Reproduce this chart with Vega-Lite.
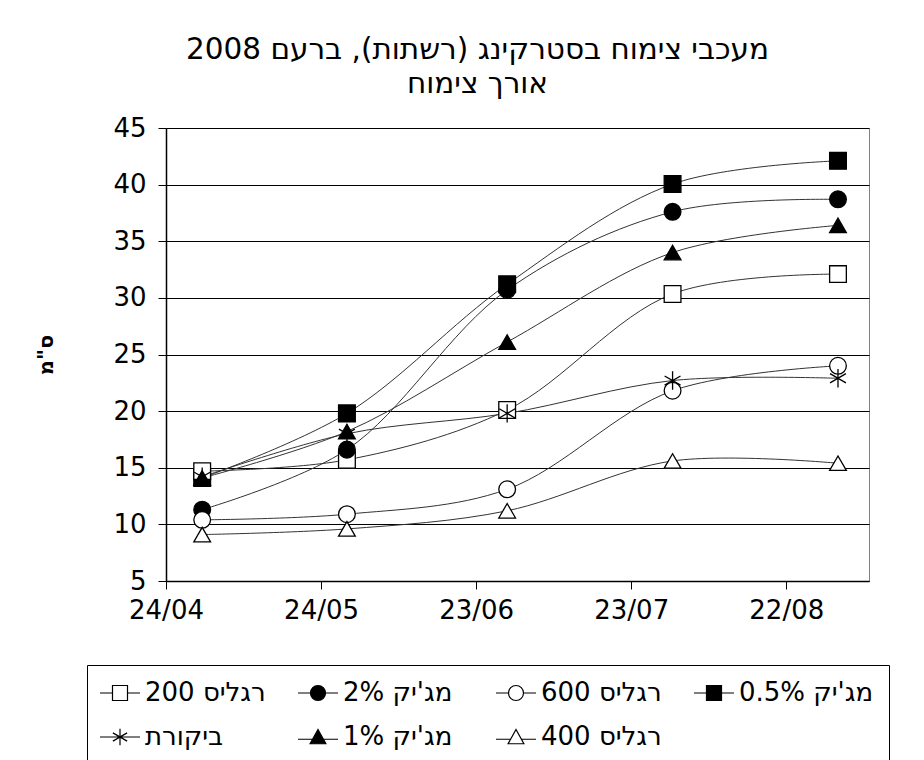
{
  "$schema": "https://vega.github.io/schema/vega-lite/v6.json",
  "width": 703,
  "height": 453,
  "padding": {"left": 35, "top": 34, "right": 40, "bottom": 2},
  "background": "white",
  "title": {
    "text": ["מעכבי צימוח בסטרקינג (רשתות), ברעם 2008", "אורך צימוח"],
    "font": "DejaVu Sans",
    "fontSize": 29.5,
    "fontWeight": "normal",
    "lineHeight": 34,
    "anchor": "middle",
    "frame": "group",
    "offset": 16,
    "dx": -40,
    "color": "#000"
  },
  "config": {
    "font": "DejaVu Sans",
    "view": {"stroke": "#808080", "strokeWidth": 1},
    "axis": {"domainColor": "#000", "tickColor": "#000", "labelColor": "#000", "titleColor": "#000", "labelFont": "DejaVu Sans", "titleFont": "DejaVu Sans"},
    "legend": {
      "orient": "none",
      "legendX": -79,
      "legendY": 537,
      "columns": 4,
      "direction": "horizontal",
      "gridAlign": "all",
      "columnPadding": 15,
      "rowPadding": 18,
      "padding": 15,
      "symbolOffset": 5,
      "strokeColor": "#000",
      "labelFont": "DejaVu Sans",
      "labelFontSize": 26,
      "labelColor": "#000",
      "labelOffset": 12,
      "labelLimit": 300,
      "symbolSize": 225,
      "symbolStrokeColor": "#000",
      "symbolStrokeWidth": 1.2
    }
  },
  "datasets": {
    "growth": [
      {"date": "2008-05-01", "series": "מג'יק 0.5%", "value": 14.1},
      {"date": "2008-05-29", "series": "מג'יק 0.5%", "value": 19.8},
      {"date": "2008-06-29", "series": "מג'יק 0.5%", "value": 31.2},
      {"date": "2008-07-31", "series": "מג'יק 0.5%", "value": 40.05},
      {"date": "2008-09-01", "series": "מג'יק 0.5%", "value": 42.1},
      {"date": "2008-05-01", "series": "מג'יק 2%", "value": 11.3},
      {"date": "2008-05-29", "series": "מג'יק 2%", "value": 16.6},
      {"date": "2008-06-29", "series": "מג'יק 2%", "value": 30.7},
      {"date": "2008-07-31", "series": "מג'יק 2%", "value": 37.6},
      {"date": "2008-09-01", "series": "מג'יק 2%", "value": 38.7},
      {"date": "2008-05-01", "series": "מג'יק 1%", "value": 14.1},
      {"date": "2008-05-29", "series": "מג'יק 1%", "value": 18.2},
      {"date": "2008-06-29", "series": "מג'יק 1%", "value": 26.1},
      {"date": "2008-07-31", "series": "מג'יק 1%", "value": 34.0},
      {"date": "2008-09-01", "series": "מג'יק 1%", "value": 36.4},
      {"date": "2008-05-01", "series": "רגליס 200", "value": 14.7},
      {"date": "2008-05-29", "series": "רגליס 200", "value": 15.7},
      {"date": "2008-06-29", "series": "רגליס 200", "value": 20.1},
      {"date": "2008-07-31", "series": "רגליס 200", "value": 30.35},
      {"date": "2008-09-01", "series": "רגליס 200", "value": 32.1},
      {"date": "2008-05-01", "series": "רגליס 600", "value": 10.4},
      {"date": "2008-05-29", "series": "רגליס 600", "value": 10.9},
      {"date": "2008-06-29", "series": "רגליס 600", "value": 13.1},
      {"date": "2008-07-31", "series": "רגליס 600", "value": 21.8},
      {"date": "2008-09-01", "series": "רגליס 600", "value": 24.0},
      {"date": "2008-05-01", "series": "רגליס 400", "value": 9.1},
      {"date": "2008-05-29", "series": "רגליס 400", "value": 9.6},
      {"date": "2008-06-29", "series": "רגליס 400", "value": 11.2},
      {"date": "2008-07-31", "series": "רגליס 400", "value": 15.6},
      {"date": "2008-09-01", "series": "רגליס 400", "value": 15.4},
      {"date": "2008-05-01", "series": "ביקורת", "value": 14.2},
      {"date": "2008-05-29", "series": "ביקורת", "value": 18.0},
      {"date": "2008-06-29", "series": "ביקורת", "value": 19.8},
      {"date": "2008-07-31", "series": "ביקורת", "value": 22.7},
      {"date": "2008-09-01", "series": "ביקורת", "value": 22.9}
    ]
  },
  "data": {"name": "growth"},
  "encoding": {
    "x": {
      "field": "date",
      "type": "temporal",
      "scale": {
        "type": "utc",
        "domain": [{"year": 2008, "month": 4, "date": 24, "utc": true}, {"year": 2008, "month": 9, "date": 7, "utc": true}]
      },
      "axis": {
        "title": null,
        "grid": false,
        "values": [
          {"year": 2008, "month": 4, "date": 24, "utc": true},
          {"year": 2008, "month": 5, "date": 24, "utc": true},
          {"year": 2008, "month": 6, "date": 23, "utc": true},
          {"year": 2008, "month": 7, "date": 23, "utc": true},
          {"year": 2008, "month": 8, "date": 22, "utc": true}
        ],
        "labelExpr": "utcFormat(datum.value, '%d/%m')",
        "labelFontSize": 26,
        "labelPadding": 8,
        "tickSize": 8,
        "domainWidth": 1.5,
        "labelFlush": false,
        "labelOverlap": false
      }
    },
    "y": {
      "field": "value",
      "type": "quantitative",
      "scale": {"domain": [5, 45], "nice": false, "zero": false},
      "axis": {
        "title": "ס\"מ",
        "titleFontSize": 21,
        "titleFontWeight": "bold",
        "titlePadding": 56,
        "values": [5, 10, 15, 20, 25, 30, 35, 40, 45],
        "labelFontSize": 26,
        "labelPadding": 12,
        "tickSize": 8,
        "domainWidth": 1.5,
        "grid": true,
        "gridColor": "#000",
        "gridWidth": 1.2,
        "gridOpacity": 1,
        "labelFlush": false
      }
    }
  },
  "layer": [
    {
      "mark": {"type": "line", "interpolate": "catmull-rom", "stroke": "#333", "strokeWidth": 1},
      "encoding": {"detail": {"field": "series"}}
    },
    {
      "transform": [{"filter": {"field": "series", "oneOf": ["רגליס 200", "מג'יק 0.5%"]}}],
      "mark": {"type": "point", "shape": "square", "stroke": "#000", "strokeWidth": 1.3, "opacity": 1, "size": 280},
      "encoding": {
        "fill": {
          "field": "series",
          "type": "nominal",
          "scale": {
            "domain": ["רגליס 200", "מג'יק 2%", "רגליס 600", "מג'יק 0.5%", "ביקורת", "מג'יק 1%", "רגליס 400"],
            "range": ["#fff", "#000", "#fff", "#000", "#fff", "#000", "#fff"]
          },
          "legend": {
            "title": null,
            "encode": {"symbols": {"stroke": {"value": "#000"}, "strokeWidth": {"value": 1.2}, "opacity": {"value": 1}}}
          }
        }
      }
    },
    {
      "transform": [{"filter": {"field": "series", "oneOf": ["מג'יק 2%", "רגליס 600"]}}],
      "mark": {"type": "point", "shape": "circle", "stroke": "#000", "strokeWidth": 1.3, "opacity": 1, "size": 280},
      "encoding": {
        "fill": {
          "field": "series",
          "type": "nominal",
          "scale": {
            "domain": ["רגליס 200", "מג'יק 2%", "רגליס 600", "מג'יק 0.5%", "ביקורת", "מג'יק 1%", "רגליס 400"],
            "range": ["#fff", "#000", "#fff", "#000", "#fff", "#000", "#fff"]
          },
          "legend": {
            "title": null,
            "encode": {"symbols": {"stroke": {"value": "#000"}, "strokeWidth": {"value": 1.2}, "opacity": {"value": 1}}}
          }
        }
      }
    },
    {
      "transform": [{"filter": {"field": "series", "oneOf": ["מג'יק 1%", "רגליס 400"]}}],
      "mark": {"type": "point", "shape": "triangle-up", "stroke": "#000", "strokeWidth": 1.3, "opacity": 1, "size": 280},
      "encoding": {
        "fill": {
          "field": "series",
          "type": "nominal",
          "scale": {
            "domain": ["רגליס 200", "מג'יק 2%", "רגליס 600", "מג'יק 0.5%", "ביקורת", "מג'יק 1%", "רגליס 400"],
            "range": ["#fff", "#000", "#fff", "#000", "#fff", "#000", "#fff"]
          },
          "legend": {
            "title": null,
            "encode": {"symbols": {"stroke": {"value": "#000"}, "strokeWidth": {"value": 1.2}, "opacity": {"value": 1}}}
          }
        }
      }
    },
    {
      "transform": [{"filter": {"field": "series", "equal": "ביקורת"}}],
      "mark": {"type": "point", "shape": "M0,-1.1V1.1M-0.95,-0.55L0.95,0.55M-0.95,0.55L0.95,-0.55", "stroke": "#000", "strokeWidth": 1.3, "opacity": 1, "size": 280},
      "encoding": {
        "fill": {
          "field": "series",
          "type": "nominal",
          "scale": {
            "domain": ["רגליס 200", "מג'יק 2%", "רגליס 600", "מג'יק 0.5%", "ביקורת", "מג'יק 1%", "רגליס 400"],
            "range": ["#fff", "#000", "#fff", "#000", "#fff", "#000", "#fff"]
          },
          "legend": {
            "title": null,
            "encode": {"symbols": {"stroke": {"value": "#000"}, "strokeWidth": {"value": 1.2}, "opacity": {"value": 1}}}
          }
        }
      }
    },
    {
      "transform": [{"filter": {"field": "value", "gt": 1000}}],
      "mark": {"type": "point", "stroke": "#000", "strokeWidth": 1.2, "opacity": 1, "size": 225},
      "encoding": {
        "shape": {
          "field": "series",
          "type": "nominal",
          "scale": {
            "domain": ["רגליס 200", "מג'יק 2%", "רגליס 600", "מג'יק 0.5%", "ביקורת", "מג'יק 1%", "רגליס 400"],
            "range": [
              "M-2.67,0H-1M1,0H2.67M-1,-1H1V1H-1Z",
              "M-2.67,0H-1M1,0H2.67M-1,0A1,1,0,1,0,1,0A1,1,0,1,0,-1,0Z",
              "M-2.67,0H-1M1,0H2.67M-1,0A1,1,0,1,0,1,0A1,1,0,1,0,-1,0Z",
              "M-2.67,0H-1M1,0H2.67M-1,-1H1V1H-1Z",
              "M-2.67,0H2.67M0,-1.1V1.1M-0.95,-0.55L0.95,0.55M-0.95,0.55L0.95,-0.55",
              "M-2.67,0.3H-0.7M0.7,0.3H2.67M0,-1L1.05,0.9H-1.05Z",
              "M-2.67,0.3H-0.7M0.7,0.3H2.67M0,-1L1.05,0.9H-1.05Z"
            ]
          },
          "legend": {"title": null}
        },
        "fill": {
          "field": "series",
          "type": "nominal",
          "scale": {
            "domain": ["רגליס 200", "מג'יק 2%", "רגליס 600", "מג'יק 0.5%", "ביקורת", "מג'יק 1%", "רגליס 400"],
            "range": ["#fff", "#000", "#fff", "#000", "#fff", "#000", "#fff"]
          },
          "legend": {
            "title": null,
            "encode": {"symbols": {"stroke": {"value": "#000"}, "strokeWidth": {"value": 1.2}, "opacity": {"value": 1}}}
          }
        }
      }
    }
  ]
}
